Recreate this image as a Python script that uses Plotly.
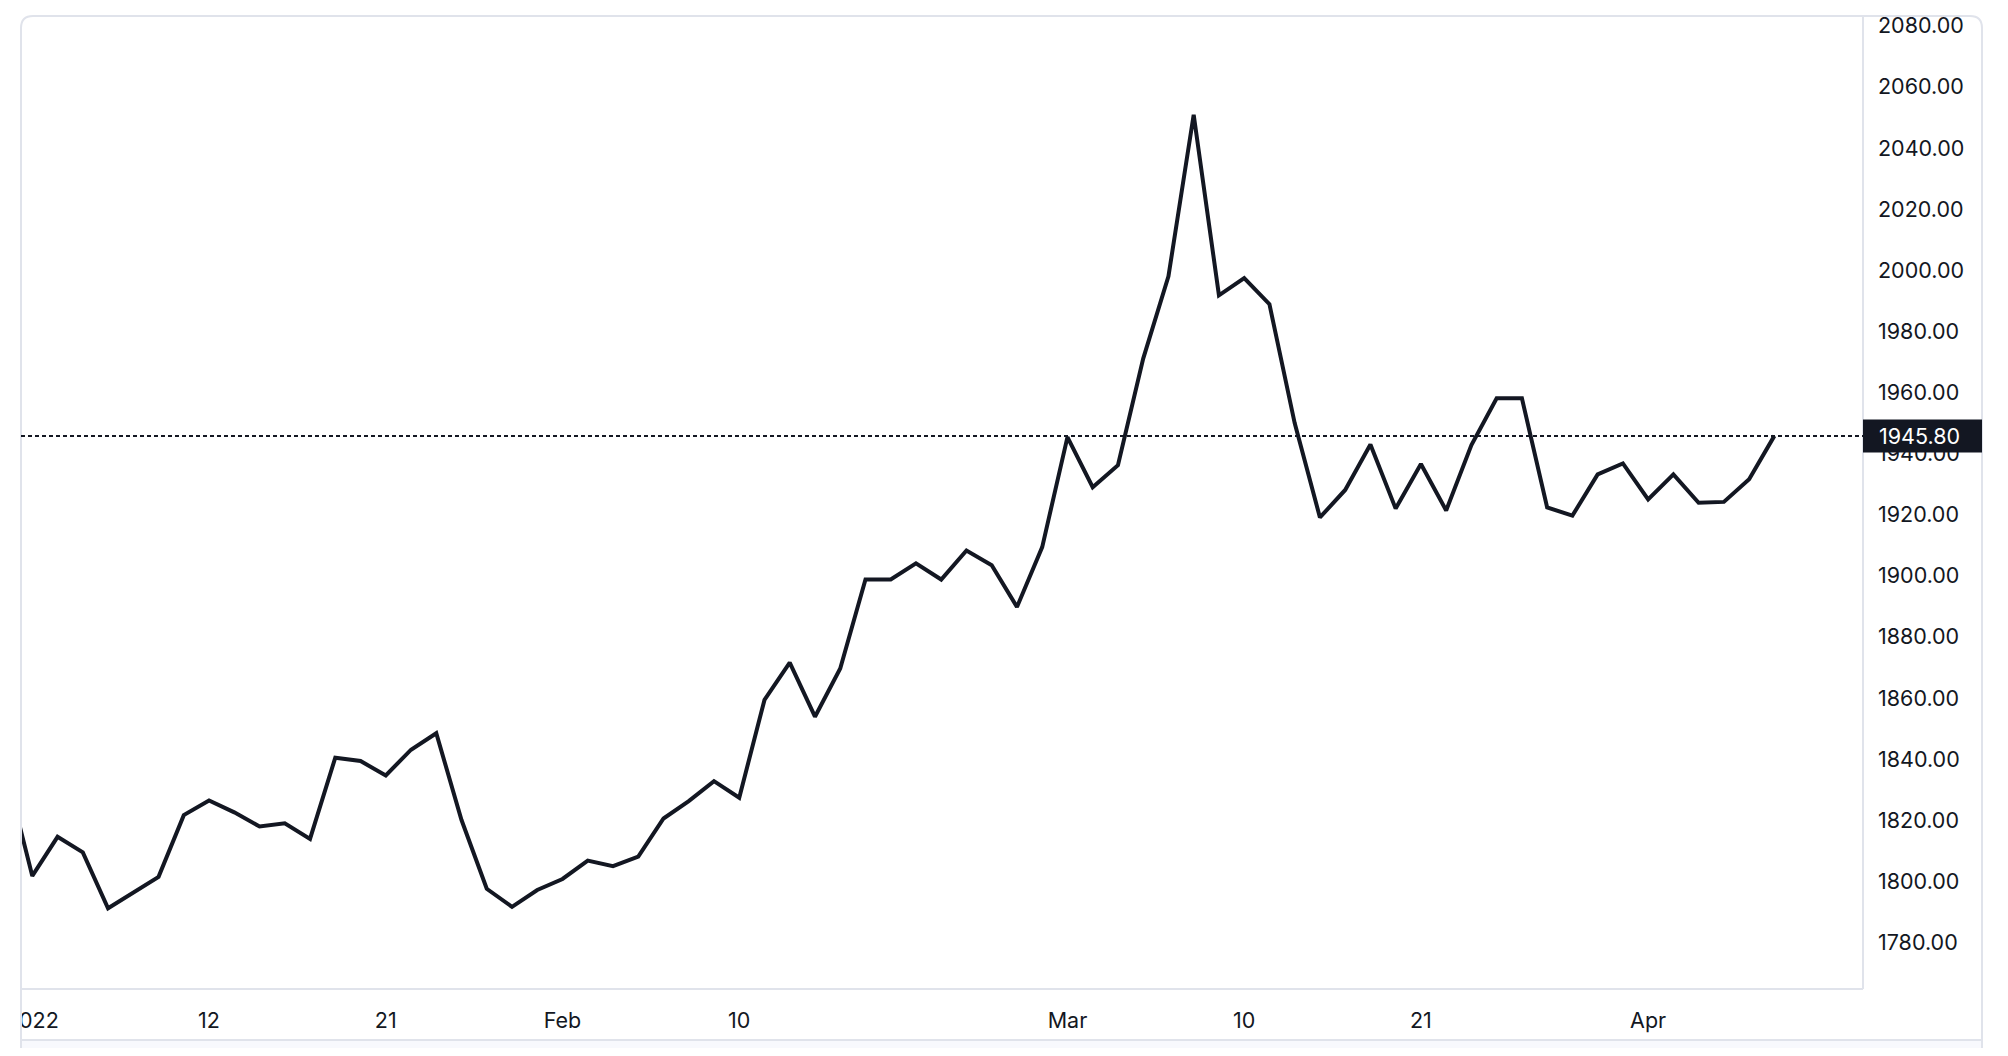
import pandas as pd
import plotly.graph_objects as go

# daily closes, weekdays only (31 Dec 2021 .. 8 Apr 2022)
dates = pd.bdate_range("2021-12-31", "2022-04-08").strftime("%Y-%m-%d").tolist()
close = [
    1834.5,
    1801.8, 1814.6, 1809.5, 1791.2, 1796.4,
    1801.5, 1821.7, 1826.5, 1822.6, 1818.0,
    1819.0, 1813.9, 1840.5, 1839.4, 1834.7,
    1843.1, 1848.5, 1820.1, 1797.6, 1791.7,
    1797.2,
    1800.8, 1806.8, 1805.0, 1808.1,
    1820.6, 1826.3, 1832.8, 1827.4, 1859.4,
    1871.6, 1853.9, 1869.7, 1898.8, 1898.8,
    1904.1, 1898.8, 1908.3, 1903.5, 1889.8,
    1909.4,
    1945.4, 1929.0, 1936.2, 1971.1,
    1998.0, 2050.9, 1991.8, 1997.4, 1988.9,
    1950.0, 1919.1, 1928.1, 1943.0, 1922.0,
    1936.6, 1921.4, 1942.8, 1958.1, 1958.1,
    1922.4, 1919.7, 1933.2, 1936.8,
    1925.0,
    1933.2, 1923.9, 1924.2, 1931.6, 1945.8,
]
tick_dates = ["2022-01-03", "2022-01-12", "2022-01-21", "2022-02-01", "2022-02-10",
              "2022-03-01", "2022-03-10", "2022-03-21", "2022-04-01"]
tick_text = ["2022", "12", "21", "Feb", "10", "Mar", "10", "21", "Apr"]

last = close[-1]
ink = "#131722"
edge = "#e0e3eb"
font = "Inter"

# pixel layout of the widget (figure coords; the page body adds 8px)
FW, FH = 1992, 1040
L, R, T, B = 13, 1855, 8, 981
RIGHT, SEP = 1974, 1032
W, H = R - L, B - T
y_lo, y_hi = 1764.8, 2083.2


def px(x):
    return (x - L) / W


def py(y):
    return (B - y) / H


fig = go.Figure(go.Scatter(
    x=dates, y=close, mode="lines",
    line=dict(color=ink, width=4),
    hoverinfo="skip",
))

r = 12
frame = (f"M {px(L)},{py(FH)} L {px(L)},{py(T + r)} Q {px(L)},{py(T)} {px(L + r)},{py(T)} "
         f"L {px(RIGHT - r)},{py(T)} Q {px(RIGHT)},{py(T)} {px(RIGHT)},{py(T + r)} L {px(RIGHT)},{py(FH)}")

shapes = [
    # hide the part of the first date label left of the frame
    dict(type="rect", xref="paper", yref="paper", x0=px(0), x1=px(L), y0=py(FH), y1=py(T),
         fillcolor="white", line_width=0, layer="above"),
    dict(type="rect", xref="paper", yref="paper", x0=px(L), x1=px(RIGHT), y0=py(FH), y1=py(SEP),
         fillcolor="#f8f9fd", line_width=0, layer="above"),
    dict(type="path", xref="paper", yref="paper", path=frame, line=dict(color=edge, width=2), layer="above"),
    dict(type="line", xref="paper", yref="paper", x0=px(L), x1=px(RIGHT), y0=py(SEP), y1=py(SEP),
         line=dict(color=edge, width=2), layer="above"),
    dict(type="line", xref="paper", yref="paper", x0=px(L), x1=1, y0=0, y1=0,
         line=dict(color=edge, width=2), layer="above"),
    dict(type="line", xref="paper", yref="paper", x0=1, x1=1, y0=0, y1=1,
         line=dict(color=edge, width=2), layer="above"),
    # last price line and its label box
    dict(type="line", xref="paper", yref="y", x0=0, x1=1, y0=last, y1=last,
         line=dict(color=ink, width=2, dash="4px,3px"), layer="above"),
    dict(type="rect", xref="paper", yref="paper", x0=1, x1=px(RIGHT),
         y0=(last - y_lo) / (y_hi - y_lo) - 16.5 / H, y1=(last - y_lo) / (y_hi - y_lo) + 16.5 / H,
         fillcolor=ink, line_width=0, layer="above"),
]

fig.add_annotation(
    xref="paper", yref="y", x=1, y=last, xanchor="left", yanchor="middle",
    xshift=14, text=f"{last:.2f}", showarrow=False,
    font=dict(family=font, size=21.5, color="white"),
)

fig.update_layout(
    width=FW, height=FH,
    margin=dict(l=L, r=FW - R, t=T, b=FH - B, autoexpand=False),
    paper_bgcolor="white", plot_bgcolor="white",
    showlegend=False, hovermode=False,
    shapes=shapes,
    xaxis=dict(
        type="category", range=[0.552, 73.51], automargin=False,
        tickvals=tick_dates, ticktext=tick_text,
        showgrid=False, zeroline=False, showline=False, ticks="",
        ticklabelstandoff=16,
        tickfont=dict(family=font, size=21.5, color=ink),
    ),
    yaxis=dict(
        side="right", range=[y_lo, y_hi], dtick=20, tick0=0, tickformat=".2f",
        automargin=False,
        showgrid=False, zeroline=False, showline=False, ticks="",
        ticklabelstandoff=14,
        tickfont=dict(family=font, size=21.5, color=ink),
    ),
)

fig.write_html("out.html")
